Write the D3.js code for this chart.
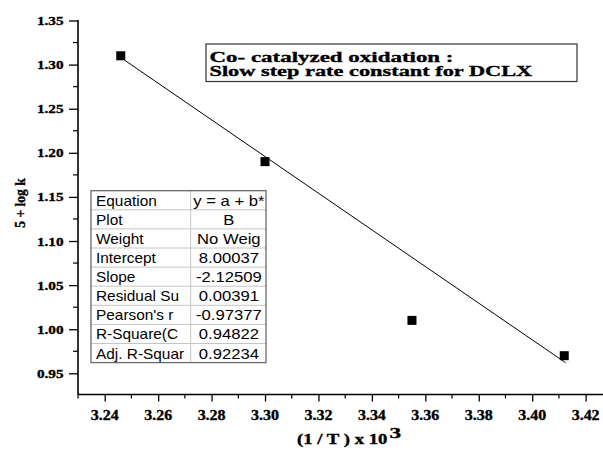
<!DOCTYPE html>
<html><head><meta charset="utf-8">
<script src="https://cdn.jsdelivr.net/npm/d3@7"></script>
<style>body{margin:0;background:#fff}
.serif{font-family:"Liberation Serif","Times New Roman",serif;font-weight:bold;stroke:#000;stroke-width:0.35px}
.sans{font-family:"Liberation Sans",Arial,sans-serif}
</style>
</head><body>
<script>
const xValues = [3.246, 3.300, 3.355, 3.412];
const yValues = [1.31, 1.19, 1.01, 0.97];
const fitX = [3.246, 3.4125];
const fitY = [1.308, 0.962];
const xTicks = [3.24, 3.26, 3.28, 3.30, 3.32, 3.34, 3.36, 3.38, 3.40, 3.42];
const yTicks = [0.95, 1.00, 1.05, 1.10, 1.15, 1.20, 1.25, 1.30, 1.35];
const tableLabels = ["Equation","Plot","Weight","Intercept","Slope","Residual Su","Pearson's r","R-Square(C","Adj. R-Squar"];
const tableValues = ["y = a + b*","B","No Weig","8.00037","-2.12509","0.00391","-0.97377","0.94822","0.92234"];
const titleLines = ["Co- catalyzed oxidation :","Slow step rate constant for DCLX"];

const W=603,H=454;
const svg=d3.select("body").append("svg").attr("width",W).attr("height",H);
const x=d3.scaleLinear().domain([3.23,3.4265]).range([78,603]);
const y=d3.scaleLinear().domain([0.926,1.35]).range([394.5,20.5]);

function addText(parent,tx,ty,str,cls,size,sx,anchor,rot){
  return parent.append("text").attr("class",cls)
    .attr("transform",`translate(${tx},${ty})${rot?` rotate(${rot})`:""} scale(${sx},1)`)
    .attr("text-anchor",anchor||"start").style("font-size",size+"px").attr("fill","#000").text(str);
}

// axes
const xAxis=d3.axisBottom(x).tickValues(xTicks).tickFormat("").tickSize(7);
const gx=svg.append("g").attr("transform","translate(0,394.5)").call(xAxis);
const xMinor=d3.range(3.23,3.426,0.02).map(v=>+v.toFixed(3));
gx.selectAll(".minor").data(xMinor).enter().append("line").attr("class","minor")
  .attr("x1",d=>x(d)).attr("x2",d=>x(d)).attr("y1",0).attr("y2",4).attr("stroke","#000").attr("stroke-width",1.2);
const yAxis=d3.axisLeft(y).tickValues(yTicks).tickFormat("").tickSize(9);
const gy=svg.append("g").attr("transform","translate(78,0)").call(yAxis);
const yMinor=d3.range(0.975,1.35,0.05).map(v=>+v.toFixed(3));
gy.selectAll(".minor").data(yMinor).enter().append("line").attr("class","minor")
  .attr("x1",-5).attr("x2",0).attr("y1",d=>y(d)).attr("y2",d=>y(d)).attr("stroke","#000").attr("stroke-width",1.2);
[gx,gy].forEach(g=>{
  g.select(".domain").attr("stroke","#000").attr("stroke-width",1.6);
  g.selectAll(".tick line").attr("stroke","#000").attr("stroke-width",1.3);
  g.selectAll(".tick text").remove();
});
gx.select(".domain").attr("d","M78,0H603");
gy.select(".domain").attr("d","M0,394.5V20");
const fmt=d3.format(".2f");
xTicks.forEach(v=>addText(svg,x(v),420,fmt(v),"serif",14,1.14,"middle"));
yTicks.forEach(v=>addText(svg,63.5,y(v)+4.5,fmt(v),"serif",13,1.17,"end"));

// axis titles
addText(svg,25,203,"5 + log k","serif",15,0.9,"middle",-90);
addText(svg,297,443.5,"(1 / T ) x 10","serif",14,1.34,"start");
addText(svg,389.5,438,"3","serif",15,1.55,"start");

// fit line
svg.append("line").attr("x1",x(fitX[0])).attr("y1",y(fitY[0])).attr("x2",x(fitX[1])).attr("y2",y(fitY[1]))
  .attr("stroke","#000").attr("stroke-width",1);
// points
const ms=9;
svg.selectAll(".pt").data(xValues).enter().append("rect").attr("class","pt")
  .attr("x",(d)=>x(d)-ms/2).attr("y",(d,i)=>y(yValues[i])-ms/2).attr("width",ms).attr("height",ms).attr("fill","#000");

// title box
svg.append("rect").attr("x",206).attr("y",44).attr("width",371).attr("height",37.5)
  .attr("fill","#fff").attr("stroke","#333").attr("stroke-width",1.2);
const titleSx=[1.53,1.49];
titleLines.forEach((t,i)=>addText(svg,209.5,61.5+i*14.5,t,"serif",15,titleSx[i],"start"));

// table
const tx0=91,tx1=190.7,tx2=266,ty0=190.7,rh=19.1;
const tg=svg.append("g");
tg.append("rect").attr("x",tx0).attr("y",ty0).attr("width",tx2-tx0).attr("height",rh*tableLabels.length)
  .attr("fill","#fff").attr("stroke","none");
tableLabels.forEach((lab,i)=>{
  if(i>0) tg.append("line").attr("x1",tx0).attr("x2",tx2).attr("y1",ty0+i*rh).attr("y2",ty0+i*rh).attr("stroke","#c4c4c4").attr("stroke-width",1);
  addText(tg,tx0+5,ty0+i*rh+15,lab,"sans",14,1.1,"start");
  addText(tg,(tx1+tx2)/2+0.5,ty0+i*rh+15,tableValues[i],"sans",14,1.19,"middle");
});
tg.append("line").attr("x1",tx1).attr("x2",tx1).attr("y1",ty0).attr("y2",ty0+rh*9).attr("stroke","#c4c4c4");
tg.append("rect").attr("x",tx0).attr("y",ty0).attr("width",tx2-tx0).attr("height",rh*tableLabels.length)
  .attr("fill","none").attr("stroke","#6a6a6a").attr("stroke-width",1.3);
</script>
</body></html>
